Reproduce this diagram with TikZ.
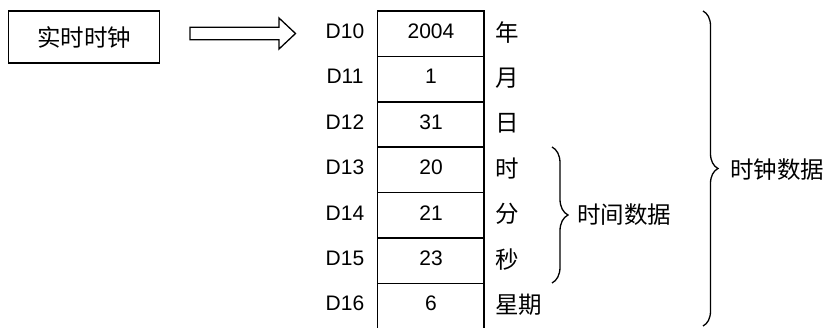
\documentclass[tikz,border=0pt]{standalone}
\usepackage{fontspec}
\setmainfont{Liberation Sans}
\newfontfamily\cjk{Noto Sans CJK SC}
\usetikzlibrary{decorations.pathreplacing}
\begin{document}
\begin{tikzpicture}[x=1pt,y=-1pt,
  lat/.style={font=\fontsize{21}{24}\selectfont, inner sep=0pt},
  han/.style={font=\cjk\fontsize{23.5}{27}\selectfont, inner sep=0pt},
  grid/.style={line width=1.6pt},
  bracestyle/.style={line width=1.3pt, decorate, decoration={brace}}]
\useasboundingbox (0,0) rectangle (830,327);
% source box
\node[han, draw, line width=1.3pt, minimum width=151pt, minimum height=52pt] (clk) at (84,37) {实时时钟};
% hollow arrow
\coordinate (a1) at (190,27.3);
\coordinate (a2) at (279,27.3);
\coordinate (a3) at (279,18);
\coordinate (tip) at (295.5,33.5);
\coordinate (a5) at (279,49);
\coordinate (a6) at (279,39.7);
\coordinate (a7) at (190,39.7);
\draw[line width=1.3pt, line join=miter] (a1) -- (a2) -- (a3) -- (tip) -- (a5) -- (a6) -- (a7) -- cycle;
% table grid
\foreach \i in {0,...,6} {
  \draw[grid] (377.5,{11+45.4*\i}) -- (484,{11+45.4*\i});
}
\draw[grid] (377.5,10.2) -- (377.5,330);
\draw[grid] (484,10.2) -- (484,330);
% row labels, values, units
\foreach \n/\v/\u [count=\i from 0] in {D10/2004/年, D11/1/月, D12/31/日, D13/20/时, D14/21/分, D15/23/秒, D16/6/星期} {
  \node[lat] (reg\i) at (345,{33.7+45.4*\i-2.5}) {\n};
  \node[lat] (val\i) at (431,{33.7+45.4*\i-2.5}) {\v};
  \node[han, anchor=west] (unit\i) at (495,{33.7+45.4*\i-1}) {\u};
}
% braces
\coordinate (sb1) at (552,147);
\coordinate (sb2) at (552,283);
\draw[bracestyle, decoration={amplitude=16pt}] (sb1) -- (sb2);
\node[han, anchor=west] (tdata) at (577,215) {时间数据};
\coordinate (bb1) at (703,11);
\coordinate (bb2) at (703,326);
\draw[bracestyle, decoration={amplitude=15pt}] (bb1) -- (bb2);
\node[han, anchor=west] (cdata) at (730,170) {时钟数据};
\end{tikzpicture}
\end{document}
